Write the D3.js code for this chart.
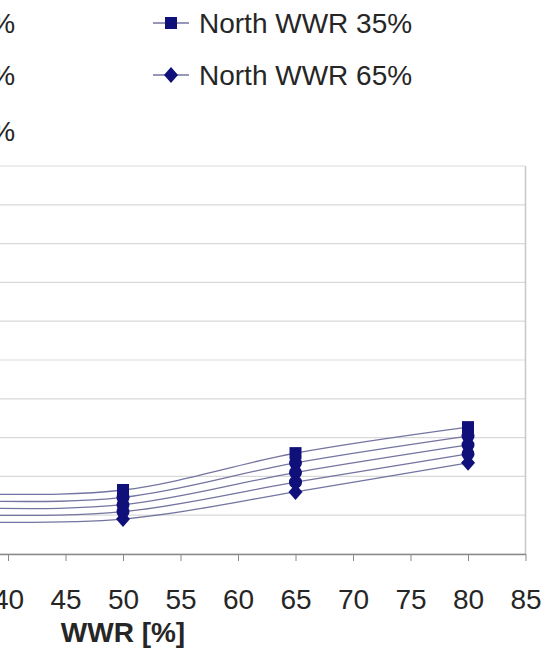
<!DOCTYPE html>
<html>
<head>
<meta charset="utf-8">
<title>WWR chart</title>
<script src="https://cdn.jsdelivr.net/npm/d3@7"></script>
<style>
  body { margin: 0; background: #fff; }
  svg { display: block; font-family: "Liberation Sans", Arial, sans-serif; }
</style>
</head>
<body>
<div id="chart"></div>
<script>
// x values (WWR %) and one array per series
var wwr = [20, 35, 50, 65, 80];
var north35 = [15.8, 15.4, 16.5, 26.0, 32.7];
var north20 = [14.0, 13.6, 14.6, 23.5, 30.4];
var north50 = [12.2, 11.8, 12.7, 21.0, 28.1];
var north80 = [10.4, 10.0, 10.9, 18.5, 25.8];
var north65 = [8.6, 8.2, 9.0, 16.0, 23.5];

var xTicks = [15, 20, 25, 30, 35, 40, 45, 50, 55, 60, 65, 70, 75, 80, 85];

// legend order (row by row, two columns)
var legendNames = ["North WWR 20%", "North WWR 35%", "North WWR 50%", "North WWR 65%", "North WWR 80%"];

var series = [
  { name: "North WWR 20%", values: north20, marker: "circle" },
  { name: "North WWR 35%", values: north35, marker: "square" },
  { name: "North WWR 50%", values: north50, marker: "circle" },
  { name: "North WWR 65%", values: north65, marker: "diamond" },
  { name: "North WWR 80%", values: north80, marker: "circle" }
];

var W = 547, H = 656;
var navy = "#10107a", lineCol = "#7474a0";

var svg = d3.select("#chart").append("svg")
  .attr("width", W).attr("height", H);

// plot area: left edge is outside the picture
var x = d3.scaleLinear().domain([15, 85]).range([-279.5, 525.5]);
var y = d3.scaleLinear().domain([0, 100]).range([554, 166]);

// gridlines
svg.append("g").selectAll("line")
  .data(y.ticks(10))
  .enter().append("line")
  .attr("x1", x(15)).attr("x2", x(85))
  .attr("y1", function (d) { return y(d); })
  .attr("y2", function (d) { return y(d); })
  .attr("stroke", "#d9d9d9").attr("stroke-width", 1.2);

// right border
svg.append("line")
  .attr("x1", x(85)).attr("x2", x(85))
  .attr("y1", y(100)).attr("y2", y(0))
  .attr("stroke", "#c8c8c8").attr("stroke-width", 1.5);

// x axis
var xAxis = svg.append("g")
  .attr("transform", "translate(0," + y(0) + ")")
  .call(d3.axisBottom(x).tickValues(xTicks).tickSize(7).tickPadding(28).tickSizeOuter(0));
xAxis.select(".domain").attr("stroke", "#8a8a8a").attr("stroke-width", 1.5);
xAxis.selectAll(".tick line").attr("stroke", "#8a8a8a");
xAxis.selectAll(".tick text")
  .attr("fill", "#262626")
  .style("font-size", "28px");

svg.append("text")
  .attr("x", (x(15) + x(85)) / 2)
  .attr("y", 642)
  .attr("text-anchor", "middle")
  .attr("fill", "#262626")
  .style("font-size", "28px")
  .style("font-weight", "bold")
  .text("WWR [%]");

// lines
var line = d3.line()
  .x(function (d, i) { return x(wwr[i]); })
  .y(function (d) { return y(d); })
  .curve(d3.curveCatmullRom.alpha(0.5));

function drawMarker(g, type, cx, cy) {
  if (type === "square") {
    g.append("rect").attr("x", cx - 6).attr("y", cy - 6)
      .attr("width", 12).attr("height", 12).attr("fill", navy);
  } else if (type === "diamond") {
    g.append("path")
      .attr("d", "M" + cx + "," + (cy - 8) + "L" + (cx + 7) + "," + cy + "L" + cx + "," + (cy + 8) + "L" + (cx - 7) + "," + cy + "Z")
      .attr("fill", navy);
  } else {
    g.append("circle").attr("cx", cx).attr("cy", cy).attr("r", 6.5).attr("fill", navy);
  }
}

series.forEach(function (s) {
  svg.append("path")
    .datum(s.values)
    .attr("d", line)
    .attr("fill", "none")
    .attr("stroke", lineCol)
    .attr("stroke-width", 1.3);
});
series.forEach(function (s) {
  var g = svg.append("g");
  s.values.forEach(function (v, i) {
    drawMarker(g, s.marker, x(wwr[i]), y(v));
  });
});

// legend
var colX = [-226, 171], rowY = [23, 75, 131];
legendNames.forEach(function (name, i) {
  var s = series.filter(function (d) { return d.name === name; })[0];
  var cx = colX[i % 2], cy = rowY[Math.floor(i / 2)];
  var g = svg.append("g");
  g.append("line")
    .attr("x1", cx - 18).attr("x2", cx + 18)
    .attr("y1", cy).attr("y2", cy)
    .attr("stroke", lineCol).attr("stroke-width", 1.3);
  drawMarker(g, s.marker, cx, cy);
  g.append("text")
    .attr("x", cx + 28).attr("y", cy + 10)
    .attr("fill", "#262626")
    .style("font-size", "28px")
    .text(name);
});
</script>
</body>
</html>
